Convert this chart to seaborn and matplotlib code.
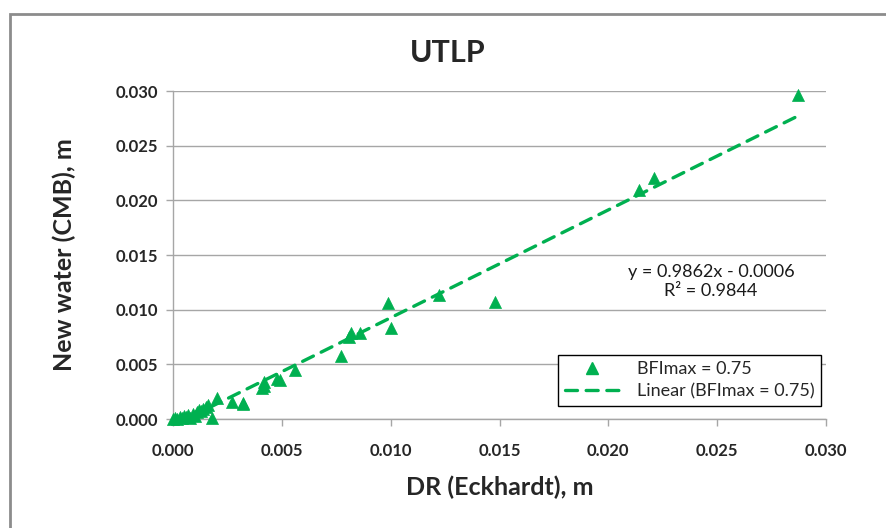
import matplotlib
matplotlib.use("Agg")
import matplotlib.pyplot as plt
import seaborn as sns
import numpy as np
import pandas as pd
from matplotlib.patches import Rectangle
from matplotlib.lines import Line2D

# ---- data ----
dr_eckhardt = [0.0000, 0.0001, 0.0002, 0.0003, 0.0004, 0.0005, 0.0006, 0.0007, 0.0008,
               0.0009, 0.0010, 0.0011, 0.0012, 0.0013, 0.0014, 0.0015, 0.0016, 0.0018,
               0.0020, 0.0027, 0.0032, 0.0032, 0.0041, 0.0042, 0.0042, 0.0048, 0.0049,
               0.0056, 0.0077, 0.0081, 0.0082, 0.0086, 0.0099, 0.0100, 0.0122, 0.0148,
               0.0214, 0.0221, 0.0287]
new_water_cmb = [0.0000, 0.0001, 0.0000, 0.0002, 0.0001, 0.0003, 0.0002, 0.0004, 0.0001,
                 0.0005, 0.0003, 0.0006, 0.0008, 0.0007, 0.0009, 0.0011, 0.0013, 0.0001,
                 0.0019, 0.0016, 0.0015, 0.0014, 0.0028, 0.0034, 0.0030, 0.0037, 0.0036,
                 0.0045, 0.0058, 0.0075, 0.0079, 0.0079, 0.0106, 0.0083, 0.0113, 0.0107,
                 0.0209, 0.0220, 0.0296]
trend_slope = 0.9862
trend_intercept = -0.0006
r_squared = 0.9844
series_label = "BFImax = 0.75"
trend_label = "Linear (BFImax = 0.75)"
tick_values = [0.000, 0.005, 0.010, 0.015, 0.020, 0.025, 0.030]
tick_labels = ["0.000", "0.005", "0.010", "0.015", "0.020", "0.025", "0.030"]

GREEN = "#00B050"
GRID = "#A6A6A6"

sns.set_theme(style="white")
plt.rcParams["font.family"] = ["Lato", "DejaVu Sans"]

fig = plt.figure(figsize=(8.86, 5.28), dpi=100)
ax = fig.add_axes([173/886, 1-419/528, (826-173)/886, (419-91)/528])

df = pd.DataFrame({"x": dr_eckhardt, "y": new_water_cmb})
sns.scatterplot(data=df, x="x", y="y", ax=ax, marker="^", s=75, color=GREEN,
                edgecolor=GREEN, linewidth=0.5, clip_on=False, zorder=4, legend=False)

xs = np.array([min(dr_eckhardt), max(dr_eckhardt)])
tdf = pd.DataFrame({"x": xs, "y": trend_slope*xs + trend_intercept})
sns.lineplot(data=tdf, x="x", y="y", ax=ax, color=GREEN, linewidth=2.4,
             linestyle=(0, (3.6, 2.6)), dash_capstyle="round", zorder=3, legend=False)

ax.set_xlim(0, 0.030)
ax.set_ylim(0, 0.030)
ax.set_xticks(tick_values)
ax.set_xticklabels(tick_labels)
ax.set_yticks(tick_values)
ax.set_yticklabels(tick_labels)
ax.tick_params(axis="both", labelsize=12, length=5, width=1, color=GRID,
               direction="out", pad=6, left=True, bottom=True)
for lab in ax.get_xticklabels() + ax.get_yticklabels():
    lab.set_fontweight("bold")
ax.tick_params(axis="x", pad=12)

ax.grid(axis="y", color=GRID, linewidth=1)
ax.grid(axis="x", visible=False)
ax.set_axisbelow(True)
for side in ["top", "right"]:
    ax.spines[side].set_visible(False)
for side in ["left", "bottom"]:
    ax.spines[side].set_color(GRID)
    ax.spines[side].set_linewidth(1)

ax.set_xlabel("DR (Eckhardt), m", fontsize=18, fontweight="bold", labelpad=12)
ax.set_ylabel("New water (CMB), m", fontsize=18, fontweight="bold", labelpad=28)
fig.text(448/886, 1-53/528, "UTLP", ha="center", va="center", fontsize=22,
         fontweight="bold")

ax.text(0.02472, 0.01258, f"y = {trend_slope}x - {abs(trend_intercept):.4f}\nR² = {r_squared}",
        ha="center", va="center", fontsize=13, linespacing=1.3, color="#1a1a1a")

handles = [Line2D([], [], marker="^", color=GREEN, linestyle="none", markersize=8),
           Line2D([], [], color=GREEN, linewidth=2.4, linestyle=(0, (3.6, 2.6)),
                  dash_capstyle="round")]
leg = ax.legend(handles, [series_label, trend_label], loc="lower right",
                bbox_to_anchor=(0.992, 0.04), fontsize=13, frameon=True,
                fancybox=False, edgecolor="black", framealpha=1, handlelength=3.0,
                borderpad=0.35, labelspacing=0.35, handletextpad=1.0,
                borderaxespad=0)
leg.get_frame().set_linewidth(1)

fig.add_artist(Rectangle((10/886, -0.1), 1.2, 1.1 - 14/528, transform=fig.transFigure,
                         fill=False, edgecolor="#8C8C8C", linewidth=2))

fig.savefig("out.png", dpi=100)
